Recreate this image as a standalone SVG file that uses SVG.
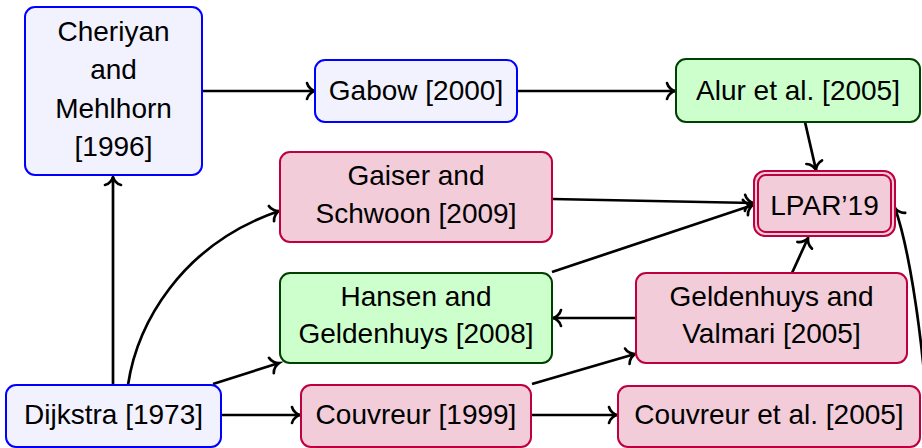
<svg xmlns="http://www.w3.org/2000/svg" width="922" height="448" viewBox="0 0 922 448">
<style>
  text { font-family: "Liberation Sans", Arial, sans-serif; font-size: 28px; fill: #000; text-anchor: middle; }
  .blue { fill: #f2f2ff; stroke: #0000ff; stroke-width: 2; }
  .pink { fill: #f2ccd9; stroke: #bf0040; stroke-width: 2; }
  .green { fill: #ccffcc; stroke: #004000; stroke-width: 2; }
  .edge { fill: none; stroke: #000; stroke-width: 2.7; marker-end: url(#to); }
</style>
<defs>
  <marker id="to" markerUnits="userSpaceOnUse" orient="auto" overflow="visible" refX="0" refY="0" markerWidth="1" markerHeight="1">
    <path d="M -8,-8 C -7,-3.5 -2.5,-0.7 0,0 C -2.5,0.7 -7,3.5 -8,8" fill="none" stroke="#000" stroke-width="2.7" stroke-linecap="round"/>
  </marker>
</defs>
<rect width="922" height="448" fill="#fff"/>
<g id="connectors">
  <path class="edge" d="M113,385 L113,177"/>
  <path class="edge" d="M128,385 C137,325 180,245 279,211"/>
  <path class="edge" d="M213,384 L279,363"/>
  <path class="edge" d="M221,415 L300,415"/>
  <path class="edge" d="M202,91 L315,91"/>
  <path class="edge" d="M517,91 L675,91"/>
  <path class="edge" d="M805,122 L816,170"/>
  <path class="edge" d="M552,199 L753,203"/>
  <path class="edge" d="M552,272 L753,205"/>
  <path class="edge" d="M792,273 L808,238"/>
  <path class="edge" d="M636,318 L553,318"/>
  <path class="edge" d="M532,384 L635,354"/>
  <path class="edge" d="M531,415 L617,415"/>
  <path class="edge" d="M926,395 C920,320 908,245 895,208"/>
</g>
<g id="cheriyan">
  <rect class="blue" x="25" y="7" width="177" height="168" rx="10"/>
  <text x="113.5" y="41">Cheriyan</text>
  <text x="113.5" y="79">and</text>
  <text x="113.5" y="118">Mehlhorn</text>
  <text x="113.5" y="156">[1996]</text>
</g>
<g id="gabow">
  <rect class="blue" x="315" y="60" width="202" height="62" rx="10"/>
  <text x="416" y="100">Gabow [2000]</text>
</g>
<g id="alur">
  <rect class="green" x="676" y="59" width="244" height="63" rx="10"/>
  <text x="798" y="100">Alur et al. [2005]</text>
</g>
<g id="gaiser">
  <rect class="pink" x="280" y="152" width="272" height="90" rx="10"/>
  <text x="416" y="185">Gaiser and</text>
  <text x="416" y="223">Schwoon [2009]</text>
</g>
<g id="lpar">
  <rect class="pink" x="754" y="171" width="141" height="65" rx="11"/>
  <rect x="758" y="175" width="133" height="57" rx="8" fill="none" stroke="#bf0040" stroke-width="2"/>
  <text x="824.5" y="215">LPAR’19</text>
</g>
<g id="hansen">
  <rect class="green" x="280" y="273" width="272" height="90" rx="10"/>
  <text x="416" y="306">Hansen and</text>
  <text x="416" y="343">Geldenhuys [2008]</text>
</g>
<g id="geldenhuys">
  <rect class="pink" x="636" y="273" width="271" height="90" rx="10"/>
  <text x="771.5" y="306">Geldenhuys and</text>
  <text x="771.5" y="343">Valmari [2005]</text>
</g>
<g id="dijkstra">
  <rect class="blue" x="6" y="385" width="215" height="62" rx="10"/>
  <text x="113.5" y="424">Dijkstra [1973]</text>
</g>
<g id="couvreur">
  <rect class="pink" x="301" y="385" width="230" height="62" rx="10"/>
  <text x="416" y="424">Couvreur [1999]</text>
</g>
<g id="couvreur-etal">
  <rect class="pink" x="618" y="386" width="302" height="61" rx="10"/>
  <text x="769" y="424">Couvreur et al. [2005]</text>
</g>
</svg>
